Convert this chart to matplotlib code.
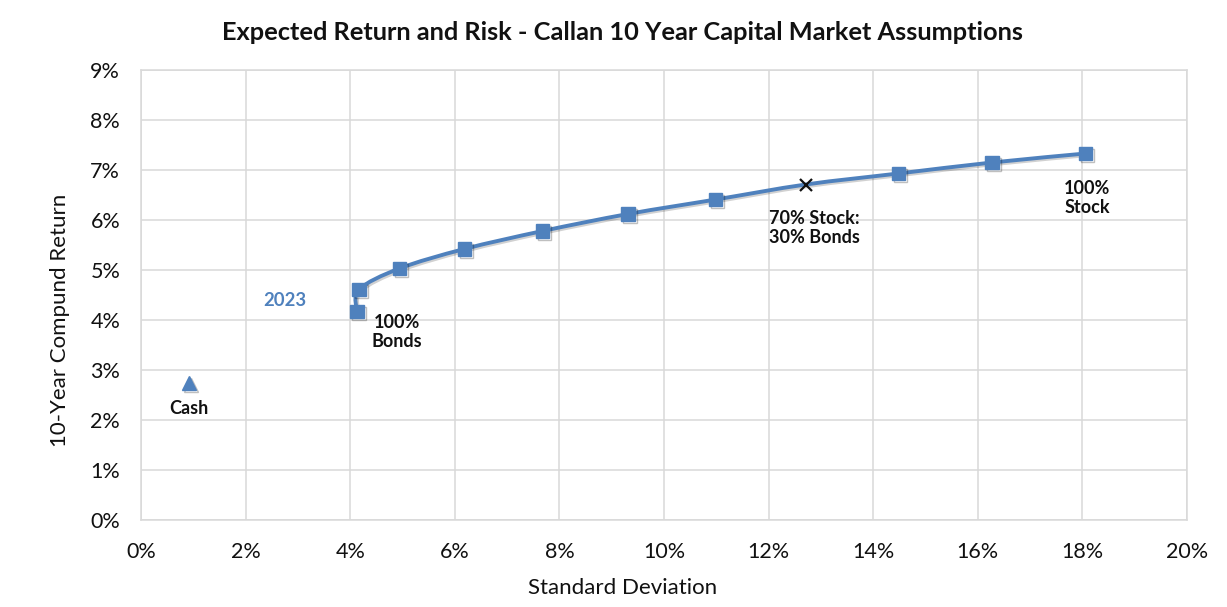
import matplotlib
matplotlib.use("Agg")
import matplotlib.pyplot as plt
import numpy as np
from matplotlib.path import Path
from matplotlib.patches import PathPatch
from matplotlib.ticker import FuncFormatter, MultipleLocator
import matplotlib.patheffects as pe

plt.rcParams['font.family'] = ['Lato', 'DejaVu Sans']

# Data (percent)
portfolio_std = [4.13, 4.17, 4.94, 6.18, 7.68, 9.31, 10.99, 12.71, 14.48, 16.27, 18.06]
portfolio_ret = [4.17, 4.61, 5.03, 5.42, 5.78, 6.12, 6.41, 6.71, 6.93, 7.15, 7.33]
mix_index = 7  # 70% Stock : 30% Bonds
cash_std = [0.92]
cash_ret = [2.74]

title = "Expected Return and Risk - Callan 10 Year Capital Market Assumptions"
xlabel = "Standard Deviation"
ylabel = "10-Year Compund Return"

blue = "#4F81BD"
dark = "#111111"

W, H = 1227, 607
fig = plt.figure(figsize=(W/100, H/100), dpi=100)
ax = fig.add_axes([141/W, 1-520/H, (1187-141)/W, (520-70)/H])

# Smoothed line (Excel-style) through the data points via Bezier segments
xs = np.array(portfolio_std)
ys = np.array(portfolio_ret)
verts = [(xs[0], ys[0])]
codes = [Path.MOVETO]
n = len(xs)
t = 1/6
for i in range(n-1):
    p0 = np.array([xs[max(i-1, 0)], ys[max(i-1, 0)]])
    p1 = np.array([xs[i], ys[i]])
    p2 = np.array([xs[i+1], ys[i+1]])
    p3 = np.array([xs[min(i+2, n-1)], ys[min(i+2, n-1)]])
    c1 = p1 + (p2 - p0) * t
    c2 = p2 - (p3 - p1) * t
    verts += [tuple(c1), tuple(c2), tuple(p2)]
    codes += [Path.CURVE4] * 3
line_shadow = [pe.SimpleLineShadow(offset=(1.2, -1.2), alpha=0.18, shadow_color='black'), pe.Normal()]
ax.add_patch(PathPatch(Path(verts, codes), fill=False, edgecolor=blue, lw=2.8,
                       zorder=3, capstyle='round', joinstyle='round', path_effects=line_shadow))

mk_shadow = [pe.SimpleLineShadow(offset=(1.5, -1.5), alpha=0.25, shadow_color='black'), pe.Normal()]
sq_x = [v for i, v in enumerate(portfolio_std) if i != mix_index]
sq_y = [v for i, v in enumerate(portfolio_ret) if i != mix_index]
ax.plot(sq_x, sq_y, ls='none', marker='s', ms=9.5, color=blue, mec=blue, zorder=4,
        path_effects=mk_shadow)
ax.plot([portfolio_std[mix_index]], [portfolio_ret[mix_index]], ls='none', marker='x',
        ms=9, mew=1.6, color=dark, zorder=5)
ax.plot(cash_std, cash_ret, ls='none', marker='^', ms=10.5, color=blue, mec=blue, zorder=4,
        path_effects=mk_shadow)

ax.set_xlim(0, 20)
ax.set_ylim(0, 9)
ax.xaxis.set_major_locator(MultipleLocator(2))
ax.yaxis.set_major_locator(MultipleLocator(1))
fmt = FuncFormatter(lambda v, p: f"{v:.0f}%")
ax.xaxis.set_major_formatter(fmt)
ax.yaxis.set_major_formatter(fmt)
ax.grid(True, color='#D9D9D9', lw=1.1)
ax.set_axisbelow(True)
for s in ax.spines.values():
    s.set_color('#D9D9D9')
    s.set_linewidth(1.1)
ax.tick_params(length=0, labelsize=15.5, colors=dark)
ax.tick_params(axis='y', pad=15)
ax.tick_params(axis='x', pad=16)

fig.text(623/W, 1-588/H, xlabel, ha='center', va='center', fontsize=16, color=dark)
fig.text(60/W, 1-320/H, ylabel, ha='center', va='center', fontsize=16, color=dark,
         rotation=90)
fig.text(623/W, 1-33/H, title, ha='center', va='center', fontsize=18.3,
         fontweight='bold', color=dark)

lab = dict(ha='center', va='center', fontsize=13, fontweight='bold', color=dark,
           linespacing=1.2)
def px(xp, yp):
    return (xp-141)/52.3, (520-yp)/50
ax.text(*px(285, 301), "2023", ha='center', va='center',
        fontsize=13.3, fontweight='bold', color=blue)
ax.text(*px(397, 332), "100%\nBonds", **lab)
ax.text(*px(814, 228), "70% Stock:\n30% Bonds", **lab)
ax.text(*px(1087, 198), "100%\nStock", **lab)
ax.text(*px(189, 409), "Cash", **lab)

fig.savefig("out.png", dpi=100)
